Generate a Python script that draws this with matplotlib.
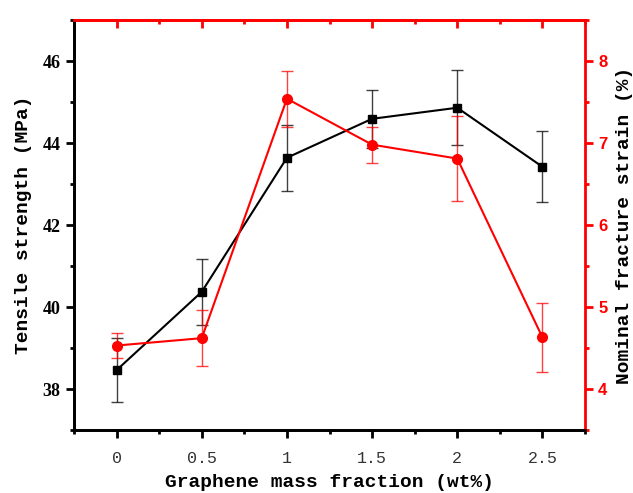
import matplotlib
matplotlib.use("Agg")
import matplotlib.pyplot as plt
from matplotlib.ticker import MultipleLocator

x = [0, 0.5, 1, 1.5, 2, 2.5]
xtick_labels = ["0", "0.5", "1", "1.5", "2", "2.5"]
strength = [38.46, 40.37, 43.64, 44.59, 44.86, 43.42]
strength_err = [0.78, 0.80, 0.81, 0.70, 0.91, 0.87]
strain = [4.53, 4.62, 7.54, 6.98, 6.81, 4.63]
strain_err = [0.15, 0.34, 0.34, 0.22, 0.52, 0.42]

fig = plt.figure(figsize=(6.33, 4.93), dpi=100)
ax = fig.add_axes([74/633, 1-430/493, (585-74)/633, (430-20)/493])
ax2 = ax.twinx()

# black series
ax.errorbar(x, strength, yerr=strength_err, fmt='none', ecolor='black', elinewidth=1.0,
            capsize=4, capthick=1.0, alpha=0.75, zorder=2)
ax.plot(x, strength, color='black', lw=1.5, marker='s', ms=6, zorder=3)

# red series
ax2.errorbar(x, strain, yerr=strain_err, fmt='none', ecolor='red', elinewidth=1.0,
             capsize=4, capthick=1.0, alpha=0.75, zorder=2)
ax2.plot(x, strain, color='red', lw=1.5, marker='o', ms=7, zorder=3)

ax.set_xlim(-0.25, 2.75)
ax.set_ylim(37, 47)
ax2.set_ylim(3.5, 8.5)

ax.set_xticks(x)
ax.set_xticklabels(xtick_labels, fontfamily='Liberation Mono', fontsize=12, color='#333333')
ax.xaxis.set_minor_locator(MultipleLocator(0.25))
ax.yaxis.set_major_locator(MultipleLocator(2))
ax.yaxis.set_minor_locator(MultipleLocator(1))
ax2.yaxis.set_major_locator(MultipleLocator(1))
ax2.yaxis.set_minor_locator(MultipleLocator(0.5))

for lbl in ax.get_yticklabels():
    lbl.set_fontfamily('Liberation Serif')
    lbl.set_fontweight('bold')
    lbl.set_fontsize(13)
for lbl in ax2.get_yticklabels():
    lbl.set_fontfamily('Liberation Sans')
    lbl.set_fontweight('bold')
    lbl.set_fontsize(12)
    lbl.set_color('red')

ax.tick_params(axis='both', which='major', direction='out', length=6, width=2, colors='black')
ax.tick_params(axis='both', which='minor', direction='out', length=3, width=2, colors='black')
ax.tick_params(axis='x', labelcolor='#333333', pad=9)
ax2.tick_params(axis='y', which='major', direction='out', length=6, width=2, colors='red')
ax2.tick_params(axis='y', which='minor', direction='out', length=3, width=2, colors='red')

for s in ['left', 'bottom']:
    ax.spines[s].set_linewidth(2)
    ax2.spines[s].set_linewidth(2)
ax2.spines['right'].set_linewidth(2)
ax2.spines['right'].set_color('red')
ax2.spines['top'].set_linewidth(2)
ax2.spines['top'].set_color('red')
ax.spines['top'].set_visible(False)
ax.spines['right'].set_visible(False)

# top ticks (red, inward) using a secondary x-axis
sec = ax.secondary_xaxis('top')
sec.set_xticks(x)
sec.xaxis.set_minor_locator(MultipleLocator(0.25))
sec.tick_params(which='major', direction='in', length=6, width=2, colors='red', labeltop=False)
sec.tick_params(which='minor', direction='in', length=3, width=2, colors='red')
sec.spines['top'].set_color('red')
sec.spines['top'].set_linewidth(2)
ax.tick_params(axis='x', which='both', top=False)

label_font = dict(fontfamily='Liberation Mono', fontweight='bold', fontsize=14)
ax.set_xlabel('Graphene mass fraction (wt%)', labelpad=6, **label_font)
ax.set_ylabel('Tensile strength (MPa)', labelpad=8, **label_font)
ax2.set_ylabel('Nominal fracture strain (%)', labelpad=6, **label_font)

fig.savefig('out.png', dpi=100)
